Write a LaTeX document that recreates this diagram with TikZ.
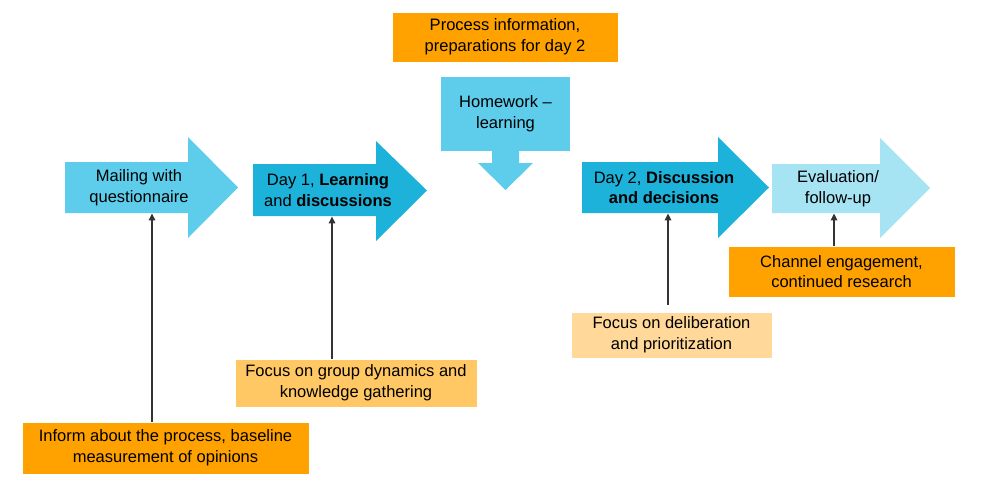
\documentclass[tikz,border=0pt]{standalone}
\usepackage{fontspec}
\setmainfont{Liberation Sans}
\usetikzlibrary{arrows.meta}

\definecolor{stageblue}{HTML}{5DCDEB}
\definecolor{dayblue}{HTML}{1DB2DA}
\definecolor{paleblue}{HTML}{A6E3F3}
\definecolor{orangeA}{HTML}{FFA200}
\definecolor{orangeB}{HTML}{FFC864}
\definecolor{orangeC}{HTML}{FFD89A}

\begin{document}
\begin{tikzpicture}[x=0.02cm, y=-0.02cm,
    every node/.style={font=\fontsize{9.4}{11.8}\selectfont, align=center, inner sep=0pt},
    stage/.style={rectangle, minimum height=1.02cm},
    note/.style={rectangle, draw=white, line width=0.3pt},
    conn/.style={-{Triangle[length=4pt,width=3.6pt]}, line width=1.1pt, draw=black!80}]

    \useasboundingbox (0,0) rectangle (1000,487);

    % flow arrows: shapes first, then the text nodes on them
    \fill[stageblue] (65,162) -- (188,162) -- (188,137) -- (238,187.5) -- (188,238) -- (188,213) -- (65,213) -- cycle;
    \node[stage, minimum width=2.96cm] at (139,187.5) (mail) {Mailing with\\questionnaire};

    \fill[dayblue] (253,164) -- (376,164) -- (376,141) -- (427,190.5) -- (376,241) -- (376,216) -- (253,216) -- cycle;
    \node[stage, minimum width=3.0cm, minimum height=1.04cm] at (328,190) (day1) {Day 1, \textbf{Learning}\\and \textbf{discussions}};

    \fill[dayblue] (582,162) -- (718,162) -- (718,137) -- (769,187.5) -- (718,238) -- (718,213) -- (582,213) -- cycle;
    \node[stage, minimum width=3.28cm] at (664,187.5) (day2) {Day 2, \textbf{Discussion}\\\textbf{and decisions}};

    \fill[paleblue] (772,164) -- (880,164) -- (880,138) -- (930,188) -- (880,238) -- (880,213) -- (772,213) -- cycle;
    \node[stage, minimum width=2.64cm, minimum height=0.98cm] at (838,188.5) (eval) {Evaluation/\\follow-up};

    % homework callout
    \fill[stageblue] (492,150) -- (519,150) -- (519,163) -- (533,163) -- (505.5,190) -- (478,163) -- (492,163) -- cycle;
    \node[rectangle, fill=stageblue, minimum width=2.58cm, minimum height=1.48cm] at (505.5,114) (home) {Homework --\\learning};

    % notes
    \node[note, fill=orangeA, minimum width=4.52cm, minimum height=1.0cm] at (505,37) (process) {Process information,\\preparations for day 2};
    \node[note, fill=orangeA, minimum width=4.54cm, minimum height=1.02cm] at (841.5,271.5) (channel) {Channel engagement,\\continued research};
    \node[note, fill=orangeC, minimum width=4.02cm, minimum height=0.92cm] at (671.5,335) (delib) {Focus on deliberation\\and prioritization};
    \node[note, fill=orangeB, minimum width=4.84cm, minimum height=0.96cm] at (356,383) (group) {Focus on group dynamics and\\knowledge gathering};
    \node[note, fill=orangeA, minimum width=5.74cm, minimum height=1.04cm] at (165.5,448) (inform) {Inform about the process, baseline\\measurement of opinions};

    \draw[conn] (inform.north -| 152,0) -- (mail.south -| 152,0);
    \draw[conn] (group.north -| 332,0) -- (day1.south -| 332,0);
    \draw[conn, shorten <=0.14cm] (delib.north -| 668,0) -- (day2.south -| 668,0);
    \draw[conn] (channel.north -| 834,0) -- (eval.south -| 834,0);

\end{tikzpicture}
\end{document}
